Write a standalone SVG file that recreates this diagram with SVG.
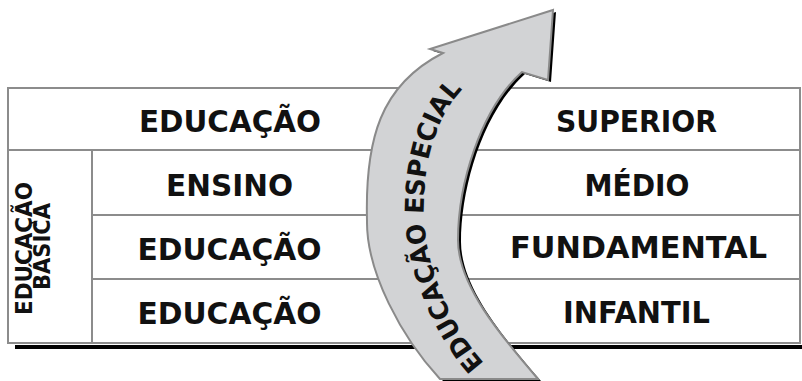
<svg xmlns="http://www.w3.org/2000/svg" xmlns:xlink="http://www.w3.org/1999/xlink" width="802" height="381" viewBox="0 0 802 381">
<style>
.grid{stroke:#8c8c8c;stroke-width:2;fill:none}
.t{font-family:"DejaVu Sans",sans-serif;font-weight:bold;font-size:29.5px;fill:#111;text-anchor:middle}
.v{font-family:"DejaVu Sans",sans-serif;font-weight:bold;font-size:22.5px;fill:#111;text-anchor:middle}
.a{font-family:"DejaVu Sans",sans-serif;font-weight:bold;font-size:26px;fill:#111}
</style>
<defs>
<path id="arrowShape" d="M440 379 C402 338 366 272 367 220 C365 140 380 85 443 53 L430 49 L553 10 L548 80 L522 72 C480 110 458 185 458 240 C458 285 500 335 538 379 Z"/>
<path id="textArc" d="M490 369 C450 330 420 255 424 200 C425 148 443 104 471 82"/>
</defs>
<rect width="802" height="381" fill="#fff"/>
<g id="table">
<rect x="15" y="345" width="787" height="4" fill="#000"/>
<rect class="grid" x="8" y="88" width="792" height="255"/>
<line class="grid" x1="8" y1="150" x2="800" y2="150"/>
<line class="grid" x1="92" y1="215" x2="800" y2="215"/>
<line class="grid" x1="92" y1="279" x2="800" y2="279"/>
<line class="grid" x1="92" y1="150" x2="92" y2="343"/>
</g>
<g id="row-superior">
<text class="t" x="230" y="132" textLength="182" lengthAdjust="spacingAndGlyphs">EDUCAÇÃO</text>
<text class="t" x="636.5" y="132" textLength="161" lengthAdjust="spacingAndGlyphs">SUPERIOR</text>
</g>
<g id="row-medio">
<text class="t" x="229.5" y="196" textLength="127" lengthAdjust="spacingAndGlyphs">ENSINO</text>
<text class="t" x="637" y="196" textLength="105" lengthAdjust="spacingAndGlyphs">MÉDIO</text>
</g>
<g id="row-fundamental">
<text class="t" x="229.5" y="260" textLength="184" lengthAdjust="spacingAndGlyphs">EDUCAÇÃO</text>
<text class="t" x="638.5" y="258" textLength="257" lengthAdjust="spacingAndGlyphs">FUNDAMENTAL</text>
</g>
<g id="row-infantil">
<text class="t" x="229.5" y="324" textLength="184" lengthAdjust="spacingAndGlyphs">EDUCAÇÃO</text>
<text class="t" x="636.5" y="323" textLength="147" lengthAdjust="spacingAndGlyphs">INFANTIL</text>
</g>
<g id="basica-label">
<text class="v" transform="translate(32 248.5) rotate(-90)" textLength="133" lengthAdjust="spacingAndGlyphs">EDUCAÇÃO</text>
<text class="v" transform="translate(50 246.5) rotate(-90)" textLength="87" lengthAdjust="spacingAndGlyphs">BÁSICA</text>
</g>
<g id="connectors">
<g id="arrow-especial">
<use xlink:href="#arrowShape" transform="translate(3 2)" fill="#000"/>
<use xlink:href="#arrowShape" fill="#d2d3d5" stroke="#8a8a8a" stroke-width="2" stroke-linejoin="miter"/>
<text class="a"><textPath xlink:href="#textArc" startOffset="8" textLength="298" lengthAdjust="spacingAndGlyphs">EDUCAÇÃO ESPECIAL</textPath></text>
</g>
</g>
</svg>
